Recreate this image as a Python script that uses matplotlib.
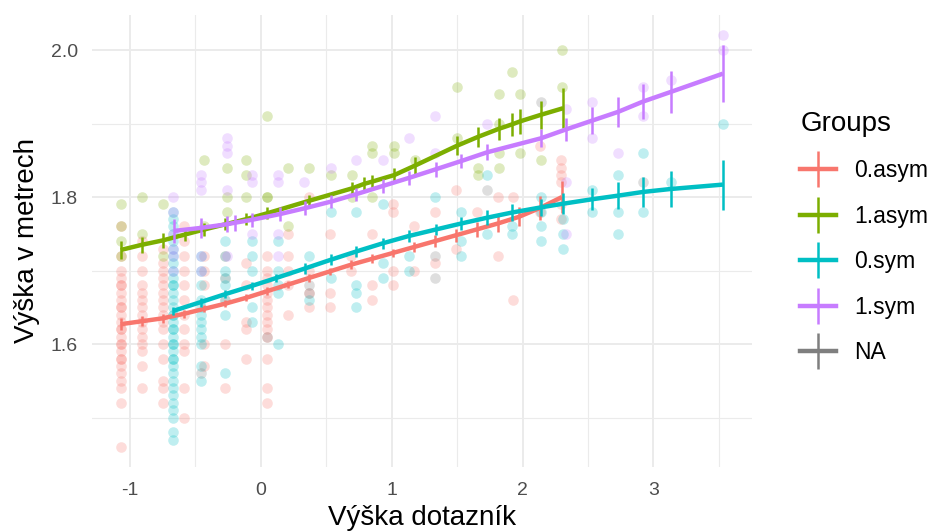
import matplotlib
matplotlib.use("Agg")
import matplotlib.pyplot as plt
from matplotlib.lines import Line2D
import numpy as np

plt.rcParams['font.family'] = ['Liberation Sans', 'DejaVu Sans']
plt.rcParams['axes.unicode_minus'] = False

groups = ['0.asym', '1.asym', '0.sym', '1.sym', 'NA']
colors = ['#F8766D', '#7CAE00', '#00BFC4', '#C77CFF', '#7F7F7F']

# raw observations: (questionnaire height, measured height) per column
pts_0asym = [
    (-1.07, [1.46, 1.52, 1.54, 1.55, 1.56, 1.57, 1.58, 1.58, 1.59, 1.60, 1.60, 1.61, 1.62, 1.62,
             1.63, 1.64, 1.65, 1.65, 1.66, 1.67, 1.68, 1.68, 1.69, 1.70, 1.72, 1.76]),
    (-0.91, [1.54, 1.57, 1.59, 1.60, 1.61, 1.62, 1.63, 1.64, 1.65, 1.66, 1.67, 1.68, 1.70, 1.72, 1.74]),
    (-0.75, [1.52, 1.54, 1.55, 1.58, 1.60, 1.62, 1.63, 1.64, 1.65, 1.66, 1.67, 1.68, 1.69, 1.70, 1.71, 1.73]),
    (-0.59, [1.50, 1.54, 1.59, 1.60, 1.62, 1.64, 1.66, 1.68, 1.70, 1.72, 1.74, 1.76]),
    (-0.43, [1.57, 1.60, 1.68, 1.70, 1.72]),
    (-0.27, [1.54, 1.60, 1.66, 1.69, 1.72]),
    (-0.11, [1.58, 1.62, 1.63, 1.68, 1.71]),
    (0.05, [1.52, 1.54, 1.58, 1.61, 1.62, 1.63, 1.64, 1.65, 1.66, 1.67, 1.68, 1.69, 1.70, 1.72]),
    (0.21, [1.64, 1.68, 1.70, 1.72, 1.75]),
    (0.37, [1.65, 1.67, 1.70, 1.80]),
    (0.53, [1.65, 1.67, 1.75]),
    (0.69, [1.70, 1.72]),
    (0.85, [1.66, 1.68, 1.75]),
    (1.01, [1.68, 1.70, 1.78, 1.79]),
    (1.17, [1.70, 1.76]),
    (1.33, [1.71, 1.78]),
    (1.49, [1.73, 1.81]),
    (1.65, [1.78]),
    (1.81, [1.72, 1.80]),
    (1.93, [1.66, 1.80]),
    (2.13, [1.78, 1.87]),
    (2.29, [1.77, 1.79, 1.82, 1.83, 1.84, 1.85]),
]
pts_1asym = [
    (-1.07, [1.72, 1.74, 1.76, 1.79]), (-0.91, [1.75, 1.80]), (-0.75, [1.72, 1.79]),
    (-0.43, [1.76, 1.85]), (-0.26, [1.78, 1.80, 1.84]), (-0.11, [1.80, 1.83, 1.85]),
    (0.05, [1.80, 1.80, 1.91]), (0.21, [1.76, 1.84]), (0.37, [1.84]), (0.54, [1.83]),
    (0.70, [1.80, 1.83]), (0.85, [1.80, 1.86, 1.87]), (1.02, [1.86, 1.87]), (1.18, [1.85]),
    (1.50, [1.88, 1.95]), (1.66, [1.83, 1.84]), (1.82, [1.84, 1.86, 1.90, 1.94]),
    (1.92, [1.97]), (1.98, [1.86, 1.94]), (2.14, [1.85]), (2.30, [1.95, 2.00]),
]
pts_0sym = [
    (-0.67, [1.47, 1.48, 1.50, 1.51, 1.52, 1.53, 1.54, 1.55, 1.56, 1.57, 1.58, 1.58, 1.59, 1.60,
             1.60, 1.61, 1.62, 1.62, 1.63, 1.64, 1.64, 1.65, 1.66, 1.67, 1.68, 1.68, 1.69, 1.70,
             1.71, 1.72, 1.73, 1.74, 1.75, 1.76, 1.77, 1.78]),
    (-0.46, [1.55, 1.57, 1.60, 1.61, 1.62, 1.63, 1.64, 1.65, 1.66, 1.68, 1.70, 1.72]),
    (-0.27, [1.56, 1.64, 1.66, 1.68, 1.69, 1.70, 1.72, 1.74]),
    (-0.07, [1.63, 1.65, 1.70, 1.72, 1.74]),
    (0.13, [1.60, 1.67, 1.68, 1.70, 1.74]),
    (0.37, [1.66, 1.72]), (0.54, [1.69, 1.78]), (0.73, [1.65, 1.67, 1.68, 1.78]),
    (0.93, [1.69, 1.71, 1.79]), (1.13, [1.70, 1.72]), (1.33, [1.80]), (1.53, [1.72, 1.74, 1.78]),
    (1.73, [1.75, 1.83]), (1.92, [1.75, 1.76]), (2.14, [1.74, 1.76, 1.78, 1.80]),
    (2.31, [1.73, 1.75, 1.77]), (2.53, [1.78, 1.81]), (2.73, [1.75, 1.78, 1.83]),
    (2.92, [1.78, 1.86]), (3.13, [1.82]), (3.53, [1.90]),
]
pts_1sym = [
    (-0.67, [1.70, 1.72, 1.73, 1.75, 1.78, 1.80]), (-0.46, [1.70, 1.72, 1.81, 1.82, 1.83]),
    (-0.26, [1.72, 1.81, 1.86, 1.87, 1.88]), (-0.07, [1.75, 1.82, 1.83]),
    (0.13, [1.72, 1.75, 1.82, 1.83]), (0.33, [1.82]), (0.54, [1.84]), (0.73, [1.85]),
    (0.93, [1.85]), (1.13, [1.88]), (1.33, [1.86, 1.91]), (1.73, [1.90]),
    (2.33, [1.75, 1.82, 1.92]), (2.53, [1.88, 1.93]), (2.73, [1.86]),
    (2.92, [1.91, 1.95]), (3.13, [1.96]), (3.53, [2.00, 2.02]),
]
pts_na = [
    (-0.46, [1.56]), (0.05, [1.61]), (0.37, [1.67, 1.68]), (1.33, [1.69, 1.72]),
    (1.73, [1.81]), (2.14, [1.93]), (2.92, [1.82]),
]

# fitted means with error bar half-widths
fit_0asym_x = [-1.07, -0.91, -0.75, -0.59, -0.43, -0.27, -0.11, 0.05, 0.21, 0.37, 0.53,
               0.69, 0.85, 1.01, 1.17, 1.33, 1.49, 1.65, 1.81, 1.97, 2.13, 2.30]
fit_0asym_y = [1.627, 1.631, 1.635, 1.641, 1.648, 1.655, 1.663, 1.672, 1.681, 1.690, 1.699,
               1.708, 1.716, 1.724, 1.732, 1.740, 1.748, 1.756, 1.764, 1.773, 1.785, 1.800]
fit_0asym_e = [0.008, 0.007, 0.006, 0.006, 0.005, 0.005, 0.005, 0.005, 0.005, 0.005, 0.005,
               0.006, 0.006, 0.006, 0.007, 0.008, 0.009, 0.010, 0.012, 0.013, 0.016, 0.022]

fit_1asym_x = [-1.07, -0.91, -0.75, -0.58, -0.43, -0.27, -0.11, 0.05, 0.37, 0.70, 0.79,
               0.85, 1.02, 1.18, 1.50, 1.66, 1.82, 1.92, 1.98, 2.14, 2.31]
fit_1asym_y = [1.728, 1.735, 1.741, 1.749, 1.756, 1.763, 1.770, 1.778, 1.795, 1.812, 1.818,
               1.821, 1.830, 1.843, 1.870, 1.882, 1.893, 1.899, 1.903, 1.912, 1.921]
fit_1asym_e = [0.012, 0.011, 0.010, 0.009, 0.009, 0.008, 0.008, 0.008, 0.008, 0.009, 0.009,
               0.009, 0.010, 0.011, 0.013, 0.014, 0.015, 0.016, 0.017, 0.019, 0.027]

fit_0sym_x = [-0.67, -0.46, -0.27, -0.07, 0.12, 0.34, 0.54, 0.73, 0.93, 1.13, 1.34, 1.53,
              1.73, 1.92, 2.14, 2.31, 2.53, 2.73, 2.92, 3.13, 3.53]
fit_0sym_y = [1.645, 1.657, 1.668, 1.679, 1.690, 1.703, 1.715, 1.726, 1.737, 1.747, 1.756,
              1.764, 1.772, 1.779, 1.786, 1.791, 1.797, 1.802, 1.807, 1.811, 1.817]
fit_0sym_e = [0.006, 0.006, 0.006, 0.006, 0.006, 0.007, 0.007, 0.007, 0.008, 0.008, 0.008,
              0.009, 0.010, 0.011, 0.012, 0.014, 0.015, 0.018, 0.021, 0.025, 0.034]

fit_1sym_x = [-0.66, -0.46, -0.26, -0.20, -0.07, 0.15, 0.34, 0.54, 0.73, 0.93, 1.13, 1.34,
              1.53, 1.73, 2.14, 2.33, 2.53, 2.73, 2.92, 3.13, 3.53]
fit_1sym_y = [1.754, 1.758, 1.763, 1.765, 1.769, 1.777, 1.785, 1.794, 1.804, 1.815, 1.826,
              1.838, 1.849, 1.861, 1.880, 1.892, 1.904, 1.916, 1.930, 1.943, 1.968]
fit_1sym_e = [0.016, 0.013, 0.011, 0.011, 0.010, 0.009, 0.009, 0.009, 0.009, 0.009, 0.009,
              0.010, 0.010, 0.011, 0.012, 0.015, 0.018, 0.020, 0.024, 0.029, 0.039]

points = [pts_0asym, pts_1asym, pts_0sym, pts_1sym, pts_na]
fits = [(fit_0asym_x, fit_0asym_y, fit_0asym_e),
        (fit_1asym_x, fit_1asym_y, fit_1asym_e),
        (fit_0sym_x, fit_0sym_y, fit_0sym_e),
        (fit_1sym_x, fit_1sym_y, fit_1sym_e)]

fig = plt.figure(figsize=(9.28, 5.31), dpi=100)
ax = fig.add_axes([0.099, 0.121, 0.711, 0.851])

for cols, c in zip(points, colors):
    xs = [x for x, ys in cols for _ in ys]
    ys = [y for _, yy in cols for y in yy]
    ax.scatter(xs, ys, s=58, color=c, alpha=0.25, linewidths=0, zorder=2)

for (fx, fy, fe), c in zip(fits, colors):
    fx, fy, fe = np.array(fx), np.array(fy), np.array(fe)
    ax.plot(fx, fy, color=c, lw=3.2, solid_capstyle='butt', zorder=3)
    ax.vlines(fx, fy - fe, fy + fe, color=c, lw=1.8, zorder=3)

ax.set_xlim(-1.29, 3.75)
ax.set_ylim(1.433, 2.048)
ax.set_xticks([-1, 0, 1, 2, 3])
ax.set_xticks([-0.5, 0.5, 1.5, 2.5, 3.5], minor=True)
ax.set_yticks([1.6, 1.8, 2.0])
ax.set_yticks([1.5, 1.7, 1.9], minor=True)
ax.set_yticklabels(['1.6', '1.8', '2.0'])
ax.grid(which='major', color='#EBEBEB', lw=1.4)
ax.grid(which='minor', color='#EBEBEB', lw=0.8)
ax.set_axisbelow(True)
for sp in ax.spines.values():
    sp.set_visible(False)
ax.tick_params(which='both', length=0, labelsize=14, labelcolor='#4D4D4D')
ax.tick_params(axis='x', pad=11)
ax.tick_params(axis='y', pad=10)

ax.set_xlabel('Výška dotazník', fontsize=20, labelpad=4)
ax.set_ylabel('Výška v metrech', fontsize=20, labelpad=8)

handles = [Line2D([0], [0], color=c, lw=3.2, marker='|', markersize=26,
                  markeredgewidth=1.8, markeredgecolor=c) for c in colors]
leg = fig.legend(handles, groups, title='Groups', loc='upper left',
                 bbox_to_anchor=(0.840, 0.830), frameon=False, fontsize=16.5,
                 title_fontsize=20, handlelength=1.57, labelspacing=0.98,
                 handletextpad=0.78, alignment='left')

fig.savefig('out.png', dpi=100)
